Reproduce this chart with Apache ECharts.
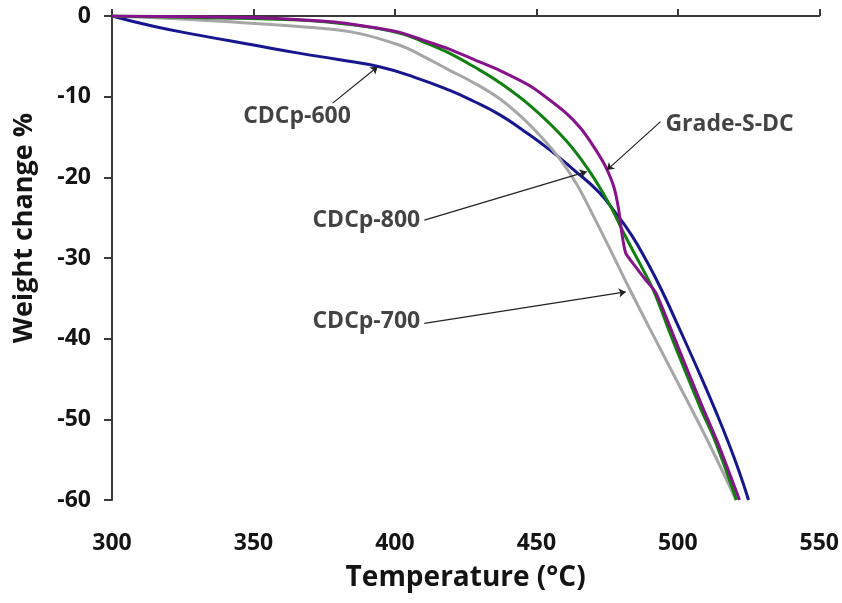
<!DOCTYPE html>
<html>
<head>
<meta charset="utf-8">
<script src="https://cdn.jsdelivr.net/npm/echarts@6/dist/echarts.min.js"></script>
<style>
  html, body { margin: 0; padding: 0; background: #fff; }
  #chart { width: 842px; height: 603px; }
</style>
</head>
<body>
<div id="chart"></div>
<script>
// temperature (°C) / weight change (%)
const t600 = [300, 315, 331, 350, 366, 380, 394.5, 407, 419.2, 428, 436.8, 445, 454.4, 463, 472, 478, 483.7, 489, 494.3, 501, 508.4, 514, 518, 521.7, 525];
const w600 = [0, -1.3, -2.4, -3.6, -4.6, -5.4, -6.3, -7.6, -9.2, -10.6, -12.2, -14.1, -16.5, -19.0, -21.8, -24.4, -27.2, -30.4, -34, -39.1, -44.9, -49.5, -53, -56.5, -60];

const t700 = [300, 331, 366, 385, 401.5, 410, 419.2, 428, 436.8, 445, 452, 458, 464, 469.6, 475.6, 482.6, 490, 499.2, 510.9, 520.6];
const w700 = [0, -0.5, -1.3, -2.0, -3.6, -5.0, -6.7, -8.3, -10.2, -12.6, -15.1, -17.6, -20.7, -24.4, -28.6, -33.6, -38.7, -44.9, -52.9, -60];

const t800 = [300, 330, 366, 385, 401.5, 410, 419.2, 428, 436.8, 448.4, 460.4, 468.5, 475.6, 481.6, 487.2, 491.5, 497, 502.7, 508, 513.3, 520.7];
const w800 = [0, -0.2, -0.5, -1.1, -2.1, -3.2, -4.6, -6.3, -8.2, -11.3, -15.4, -19.1, -23.2, -27.4, -31.1, -34.1, -39.1, -44.1, -48.6, -52.8, -60];

const tGrade = [300, 350, 380, 401.5, 410, 419.2, 428, 436.8, 448.4, 460.4, 466.1, 471, 474.5, 477.4, 479.1, 480.2, 481.6, 485.1, 488.6, 492.2, 498, 503.5, 509, 514, 521.8];
const wGrade = [0, -0.2, -0.8, -2.0, -3.0, -4.1, -5.4, -6.7, -8.8, -12.0, -14.1, -16.6, -18.7, -21.2, -24.0, -26.9, -29.4, -31.1, -32.7, -34.3, -39.2, -44.0, -48.7, -52.8, -60];

const xTicks = [300, 350, 400, 450, 500, 550];
const yTicks = [0, -10, -20, -30, -40, -50, -60];

// callouts: [text, text position, arrow tail, arrow head] in data units
const callouts = [
    ['CDCp-600', [365.4, -12.5], [378.0, -10.8], [393.9, -6.3]],
    ['CDCp-700', [389.9, -37.9], [410.4, -38.1], [481.6, -34.2]],
    ['CDCp-800', [389.9, -25.4], [410.4, -25.3], [467.8, -19.3]],
    ['Grade-S-DC', [518.3, -13.5], [493.9, -13.1], [474.9, -19.1]]
];

function pairs(xs, ys) {
    var out = [], i;
    for (i = 0; i < xs.length; i++) {
        out.push([xs[i], ys[i]]);
    }
    return out;
}

const font = '"Open Sans", "Noto Sans", sans-serif';
const ink = '#141414';
const axisInk = '#3a3a3a';

function curve(name, xs, ys, color, smooth) {
    return {
        name: name,
        type: 'line',
        data: pairs(xs, ys),
        smooth: smooth,
        showSymbol: false,
        silent: true,
        lineStyle: { color: color, width: 3 },
        z: 3
    };
}

const chart = echarts.init(document.getElementById('chart'), null, { renderer: 'canvas' });

const option = {
    backgroundColor: '#fff',
    animation: false,
    grid: { left: 112, right: 21, top: 16, bottom: 103 },
    xAxis: {
        type: 'value',
        min: xTicks[0],
        max: xTicks[xTicks.length - 1],
        interval: 50,
        name: 'Temperature (°C)',
        nameLocation: 'middle',
        nameGap: 64,
        nameTextStyle: { fontFamily: font, fontWeight: 'bold', fontSize: 28, color: ink },
        axisLine: { lineStyle: { color: axisInk, width: 2 } },
        axisTick: { inside: true, length: 7, lineStyle: { color: axisInk, width: 2 } },
        axisLabel: { margin: 32, fontFamily: font, fontWeight: 'bold', fontSize: 23, color: ink },
        splitLine: { show: false }
    },
    yAxis: {
        type: 'value',
        min: yTicks[yTicks.length - 1],
        max: yTicks[0],
        interval: 10,
        name: 'Weight change %',
        nameLocation: 'middle',
        nameGap: 74,
        nameTextStyle: {
            fontFamily: font, fontWeight: 'bold', fontSize: 27, color: ink,
            padding: [0, 0, 0, 60]
        },
        axisLine: { lineStyle: { color: axisInk, width: 2 } },
        axisTick: { inside: false, length: 8, lineStyle: { color: axisInk, width: 2 } },
        axisLabel: { margin: 21, fontFamily: font, fontWeight: 'bold', fontSize: 23, color: ink },
        splitLine: { show: false }
    },
    series: [
        curve('CDCp-600', t600, w600, '#16168f', 0.5),
        curve('CDCp-700', t700, w700, '#a6a6a6', 0.4),
        curve('CDCp-800', t800, w800, '#118011', 0.4),
        curve('Grade-S-DC', tGrade, wGrade, '#86138a', 0.2),
        {
            name: 'callouts',
            type: 'scatter',
            silent: true,
            symbolSize: 0,
            data: callouts.map(function (c) { return { value: c[1], name: c[0] }; }),
            label: {
                show: true,
                position: 'inside',
                formatter: '{b}',
                fontFamily: font,
                fontWeight: 'bold',
                fontSize: 23,
                color: ink
            },
            markLine: {
                silent: true,
                symbol: ['none', 'arrow'],
                symbolSize: 7,
                label: { show: false },
                lineStyle: { color: '#222', width: 1.2, type: 'solid' },
                data: callouts.map(function (c) {
                    return [{ coord: c[2] }, { coord: c[3] }];
                })
            },
            z: 5
        }
    ]
};

chart.setOption(option);
</script>
</body>
</html>
